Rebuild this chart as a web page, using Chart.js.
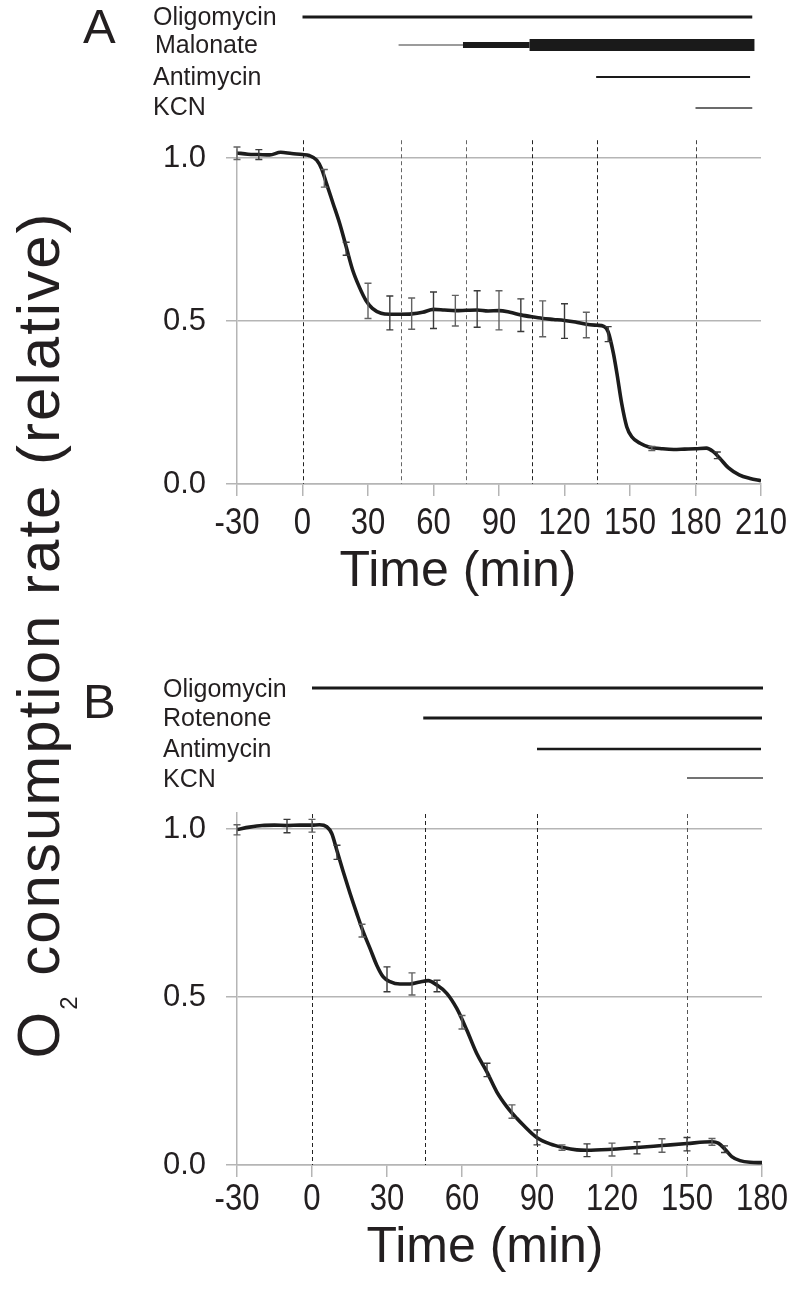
<!DOCTYPE html>
<html>
<head>
<meta charset="utf-8">
<script src="https://cdn.jsdelivr.net/npm/chart.js@4.4.0/dist/chart.umd.min.js"></script>
<style>
  body { margin: 0; background: #fff; width: 800px; height: 1304px; position: relative; overflow: hidden;
         font-family: "Liberation Sans", Arial, sans-serif; color: #231f20; }
  canvas { position: absolute; left: 0; }
  #chartA { top: 0; }
  #chartB { top: 652px; }
  #yTitle { position: absolute; width: 1000px; height: 60px; line-height: 60px; font-size: 60px;
            letter-spacing: 2px; text-align: center; left: -461px; top: 605px; white-space: nowrap;
            transform: rotate(-90deg); transform-origin: 50% 50%; }
  #yTitle .sub { font-size: 24px; position: relative; top: 18px; }
</style>
</head>
<body>
<canvas id="chartA" width="800" height="652"></canvas>
<canvas id="chartB" width="800" height="652"></canvas>
<div id="yTitle">O<span class="sub">2</span> consumption rate (relative)</div>
<script>
// Panel A: oligomycin / malonate / antimycin / KCN
const timesA = [-30, -25, -20, -15, -10, -5, 0, 3, 6.5, 8.7, 11, 14, 17, 20, 23, 26, 29,
  32, 36, 40, 45, 50, 55, 60, 65, 70, 75, 80, 85, 90, 95, 100, 105, 110, 115, 120, 125,
  130, 135, 138, 140, 142.4, 144, 146.2, 148.5, 150.8, 154.6, 159, 165, 170, 175, 180,
  185, 188, 191, 195, 200, 205, 210];
const valuesA = [1.016, 1.012, 1.011, 1.010, 1.018, 1.014, 1.011, 1.008, 0.994, 0.968, 0.922, 0.861, 0.800, 0.728, 0.656, 0.605, 0.564,
  0.539, 0.524, 0.521, 0.521, 0.522, 0.527, 0.536, 0.534, 0.532, 0.533, 0.534, 0.531, 0.532, 0.527, 0.519, 0.513, 0.508, 0.505, 0.502, 0.497,
  0.490, 0.487, 0.484, 0.467, 0.401, 0.340, 0.247, 0.176, 0.145, 0.125, 0.113, 0.108, 0.106, 0.107, 0.108,
  0.110, 0.100, 0.080, 0.050, 0.028, 0.017, 0.010];
const errTimesA = [-30, -20, 10, 20, 30, 40, 50, 60, 70, 80, 90, 100, 110, 120, 130, 140, 160, 190];
const errMidA = [1.015, 1.011, 0.938, 0.722, 0.562, 0.525, 0.523, 0.533, 0.532, 0.537, 0.533, 0.518, 0.507, 0.500, 0.488, 0.460, 0.109, 0.088];
const errHalfA = [0.019, 0.015, 0.027, 0.020, 0.054, 0.052, 0.048, 0.056, 0.047, 0.056, 0.060, 0.050, 0.055, 0.053, 0.039, 0.023, 0.006, 0.010];
const addTimesA = [0, 45, 75, 105, 135, 180];
const xTicksA = [-30, 0, 30, 60, 90, 120, 150, 180, 210];
const drugsA = ['Oligomycin', 'Malonate', 'Antimycin', 'KCN'];
const segRowA = [0, 1, 1, 1, 2, 3];
const segStartA = [0, 44, 73.5, 104, 134.5, 180];
const segEndA = [206, 73.5, 104, 207, 205, 206];

// Panel B: oligomycin / rotenone / antimycin / KCN
const timesB = [-30, -25, -20, -15, -10, -5, 0, 3, 5.9, 7.9, 9.9, 12.5, 15.2, 17.9, 20.5, 23.2, 25.9, 28.5,
  31.2, 35.2, 39.2, 43.2, 46.5, 49.9, 53.9, 57.9, 61.9, 65.9, 69.9, 73.9, 77.9, 81.9, 84.5, 89.9, 95.2, 100.5,
  105.9, 110, 120, 130, 140, 150, 160, 162.5, 165.2, 167.9, 171.2, 175.2, 180];
const valuesB = [0.999, 1.006, 1.011, 1.012, 1.011, 1.012, 1.012, 1.013, 1.007, 0.987, 0.938, 0.873, 0.809, 0.749, 0.694, 0.645, 0.595, 0.560,
  0.546, 0.539, 0.539, 0.545, 0.549, 0.536, 0.511, 0.466, 0.402, 0.332, 0.278, 0.218, 0.174, 0.139, 0.119, 0.082, 0.063, 0.052,
  0.045, 0.044, 0.047, 0.052, 0.058, 0.064, 0.069, 0.065, 0.047, 0.025, 0.013, 0.008, 0.007];
const errTimesB = [-30, -10, 0, 10, 20, 30, 40, 50, 60, 70, 80, 90, 100, 110, 120, 130, 140, 150, 160, 165];
const errMidB = [0.998, 1.009, 1.010, 0.931, 0.698, 0.553, 0.539, 0.533, 0.425, 0.283, 0.159, 0.082, 0.052, 0.044, 0.046, 0.051, 0.058, 0.062, 0.069, 0.047];
const errHalfB = [0.015, 0.020, 0.019, 0.021, 0.019, 0.037, 0.033, 0.017, 0.020, 0.020, 0.020, 0.022, 0.008, 0.019, 0.019, 0.018, 0.020, 0.020, 0.010, 0.010];
const addTimesB = [0, 45, 90, 150];
const xTicksB = [-30, 0, 30, 60, 90, 120, 150, 180];
const drugsB = ['Oligomycin', 'Rotenone', 'Antimycin', 'KCN'];
const segRowB = [0, 1, 2, 3];
const segStartB = [0, 44.5, 90, 150];
const segEndB = [180.4, 180, 179.6, 180.4];

const yTicks = [0, 0.5, 1.0];

// Styles
const sans = '"Liberation Sans", Arial, sans-serif';
const textColor = '#231f20';
const gridColor = '#b5b5b5';

// Decorations drawn through the chart's scales
const panelDecor = (p) => ({
    id: 'panelDecor',
    beforeDatasetsDraw(chart) {
        const {ctx, scales: {x, y}} = chart;
        ctx.save();
        ctx.lineWidth = 1;
        ctx.setLineDash([4, 3]);
        p.addTimes.forEach((t, i) => {
            const px = Math.round(x.getPixelForValue(t)) + 0.5;
            ctx.strokeStyle = p.dashColors[i];
            ctx.beginPath();
            ctx.moveTo(px, y.getPixelForValue(p.dashTop));
            ctx.lineTo(px, y.getPixelForValue(0));
            ctx.stroke();
        });
        ctx.restore();
    },
    afterDatasetsDraw(chart) {
        const {ctx, scales: {x, y}} = chart;
        ctx.save();
        ctx.lineWidth = 1.4;
        p.errTimes.forEach((t, i) => {
            const px = x.getPixelForValue(t);
            const hi = y.getPixelForValue(p.errMid[i] + p.errHalf[i]);
            const lo = y.getPixelForValue(p.errMid[i] - p.errHalf[i]);
            ctx.strokeStyle = i % 2 ? '#3a3a3a' : '#626262';
            ctx.beginPath();
            ctx.moveTo(px, hi); ctx.lineTo(px, lo);
            ctx.moveTo(px - 3.5, hi); ctx.lineTo(px + 3.5, hi);
            ctx.moveTo(px - 3.5, lo); ctx.lineTo(px + 3.5, lo);
            ctx.stroke();
        });
        ctx.restore();
    },
    afterDraw(chart) {
        const {ctx, scales: {x}} = chart;
        ctx.save();
        ctx.fillStyle = textColor;
        ctx.textBaseline = 'alphabetic';

        // Condensed x tick labels at the scale's tick positions
        ctx.font = `37px ${sans}`;
        ctx.textAlign = 'center';
        x.ticks.forEach(tk => {
            ctx.save();
            ctx.translate(x.getPixelForValue(tk.value), p.tickBase);
            ctx.scale(0.84, 1);
            ctx.fillText(String(tk.value), 0, 0);
            ctx.restore();
        });

        // Treatment rows
        ctx.textAlign = 'left';
        ctx.font = `25px ${sans}`;
        p.drugs.forEach((d, i) => ctx.fillText(d, p.labelX[i], p.labelBase[i]));
        ctx.lineCap = 'butt';
        p.segRow.forEach((r, i) => {
            ctx.strokeStyle = p.segColor[i];
            ctx.lineWidth = p.segWidth[i];
            ctx.beginPath();
            ctx.moveTo(x.getPixelForValue(p.segStart[i]), p.rowY[r]);
            ctx.lineTo(x.getPixelForValue(p.segEnd[i]), p.rowY[r]);
            ctx.stroke();
        });

        // Panel letter and x title
        ctx.font = `49px ${sans}`;
        ctx.fillText(p.letter, 83, p.letterBase);
        ctx.font = `50px ${sans}`;
        ctx.textAlign = 'center';
        ctx.fillText('Time (min)', p.titleX, p.titleBase);
        ctx.restore();
    }
});

const makeChart = (id, times, values, xTicks, xMax, yMax, axisH, padTop, padRight, decor) => {
    return new Chart(document.getElementById(id), {
        type: 'line',
        data: {
            datasets: [{
                data: times.map((t, i) => ({x: t, y: values[i]})),
                borderColor: '#1c1c1c',
                borderWidth: 3.6,
                pointRadius: 0,
                cubicInterpolationMode: 'monotone',
                fill: false
            }]
        },
        options: {
            responsive: false,
            animation: false,
            devicePixelRatio: 1,
            layout: {padding: {top: padTop, right: padRight, left: 0, bottom: 0}},
            plugins: {legend: {display: false}, tooltip: {enabled: false}},
            scales: {
                x: {
                    type: 'linear', min: -30, max: xMax,
                    afterBuildTicks: s => { s.ticks = xTicks.map(v => ({value: v})); },
                    afterFit: s => { s.height = axisH; },
                    grid: {drawOnChartArea: false, color: gridColor, lineWidth: 1.5, tickLength: 12},
                    border: {color: gridColor, width: 1.5},
                    ticks: {display: false}
                },
                y: {
                    min: 0, max: yMax,
                    afterBuildTicks: s => { s.ticks = yTicks.map(v => ({value: v})); },
                    afterFit: s => { s.width = 237; },
                    grid: {color: gridColor, lineWidth: 1.5, tickLength: 11},
                    border: {color: gridColor, width: 1.5},
                    ticks: {font: {family: sans, size: 31}, color: textColor, padding: 20,
                            callback: v => v.toFixed(1)}
                }
            }
        },
        plugins: [decor]
    });
};

makeChart('chartA', timesA, valuesA, xTicksA, 210, 1.025, 168, 150, 39, panelDecor({
    addTimes: addTimesA, dashTop: 1.055,
    dashColors: ['#222', '#666', '#666', '#222', '#222', '#444'],
    errTimes: errTimesA, errMid: errMidA, errHalf: errHalfA,
    drugs: drugsA, labelX: [153, 155, 153, 153], labelBase: [25, 53, 85, 115],
    rowY: [17, 45, 77, 108],
    segRow: segRowA, segStart: segStartA, segEnd: segEndA,
    segWidth: [2.8, 1.5, 6, 12, 2.2, 1.3],
    segColor: ['#1a1a1a', '#7a7a7a', '#1a1a1a', '#1a1a1a', '#1a1a1a', '#3a3a3a'],
    letter: 'A', letterBase: 43, tickBase: 534, titleX: 458, titleBase: 586
}));

makeChart('chartB', timesB, valuesB, xTicksB, 180, 1.048, 139, 161, 38, panelDecor({
    addTimes: addTimesB, dashTop: 1.045,
    dashColors: ['#222', '#222', '#222', '#555'],
    errTimes: errTimesB, errMid: errMidB, errHalf: errHalfB,
    drugs: drugsB, labelX: [163, 163, 163, 163], labelBase: [45, 74, 105, 135],
    rowY: [36, 66, 97, 126],
    segRow: segRowB, segStart: segStartB, segEnd: segEndB,
    segWidth: [3, 3, 2.5, 1.5],
    segColor: ['#1a1a1a', '#1a1a1a', '#1a1a1a', '#444'],
    letter: 'B', letterBase: 66, tickBase: 558, titleX: 485, titleBase: 610
}));
</script>
</body>
</html>
